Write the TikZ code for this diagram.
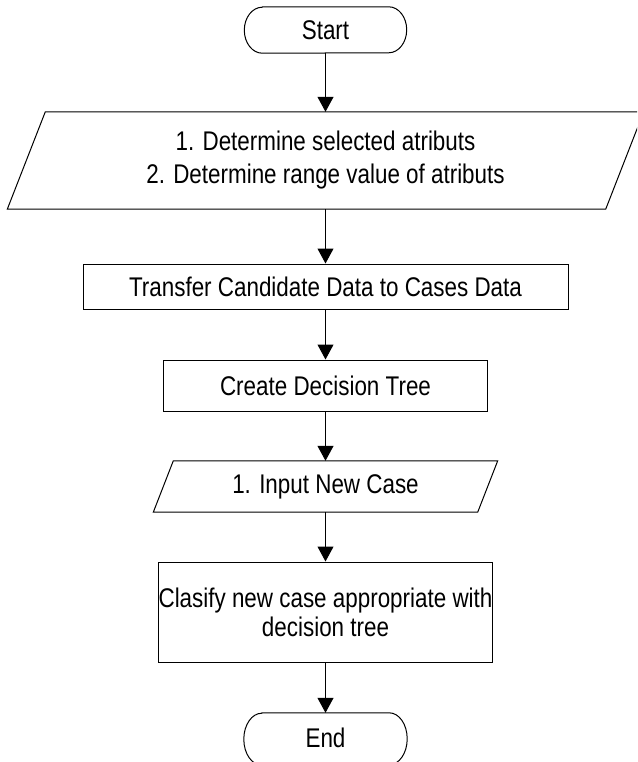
\documentclass[tikz,border=0pt]{standalone}
\usepackage{fontspec}
\setmainfont{Liberation Sans}[FakeStretch=0.83]
\usetikzlibrary{arrows.meta}
\begin{document}
\begin{tikzpicture}[x=1pt,y=-1pt,
  every node/.style={font=\fontsize{27}{32}\selectfont, inner sep=0pt, align=center},
  plain/.style={draw, line width=1pt},
  ghost/.style={draw=none},
  outline/.style={line width=1pt, line join=miter},
  arr/.style={line width=1pt, -{Triangle[length=15pt,width=16pt]}}]
\useasboundingbox (0,0) rectangle (637,762);
\clip (0,0) rectangle (637,762);

% nodes
\node[ghost, minimum width=162pt, minimum height=46pt] (start) at (325.5,30) {Start};
\node[ghost, minimum width=598pt, minimum height=97pt] (p1) at (325.5,160.5)
  {1. Determine selected atributs\\[1pt]2. Determine range value of atributs};
\node[plain, minimum width=485pt, minimum height=45pt] (transfer) at (325.5,286.5)
  {Transfer Candidate Data to Cases Data};
\node[plain, minimum width=324pt, minimum height=51pt] (create) at (325.5,385.5)
  {Create Decision Tree};
\node[ghost, minimum width=324pt, minimum height=51pt] (input) at (325.5,486.5)
  {1. Input New Case};
\node[plain, minimum width=324pt, minimum height=100pt] (clasify) at (325.5,612)
  {Clasify new case appropriate with\\[-3pt]decision tree};
\node[ghost, minimum width=163pt, minimum height=52pt] (end) at (325.5,739) {\raisebox{3pt}{End}};

% terminal outlines
\draw[outline] ([xshift=18pt]start.north west) -- ([xshift=-18pt]start.north east)
  arc[start angle=90,end angle=-90,x radius=18pt,y radius=23pt]
  -- ([xshift=18pt]start.south west)
  arc[start angle=270,end angle=90,x radius=18pt,y radius=23pt] -- cycle;
\draw[outline] ([xshift=18pt]end.north west) -- ([xshift=-18pt]end.north east)
  arc[start angle=90,end angle=-90,x radius=18pt,y radius=26pt]
  -- ([xshift=18pt]end.south west)
  arc[start angle=270,end angle=90,x radius=18pt,y radius=26pt] -- cycle;

% parallelogram outlines
\draw[outline] ([xshift=19pt]p1.north west) -- ([xshift=19pt]p1.north east)
  -- ([xshift=-19pt]p1.south east) -- ([xshift=-19pt]p1.south west) -- cycle;
\draw[outline] ([xshift=10pt]input.north west) -- ([xshift=10pt]input.north east)
  -- ([xshift=-10pt]input.south east) -- ([xshift=-10pt]input.south west) -- cycle;

% connectors
\draw[arr] (start.south) -- (p1.north);
\draw[arr] (p1.south) -- (transfer.north);
\draw[arr] (transfer.south) -- (create.north);
\draw[arr] (create.south) -- (input.north);
\draw[arr] (input.south) -- (clasify.north);
\draw[arr] (clasify.south) -- (end.north);
\end{tikzpicture}
\end{document}
